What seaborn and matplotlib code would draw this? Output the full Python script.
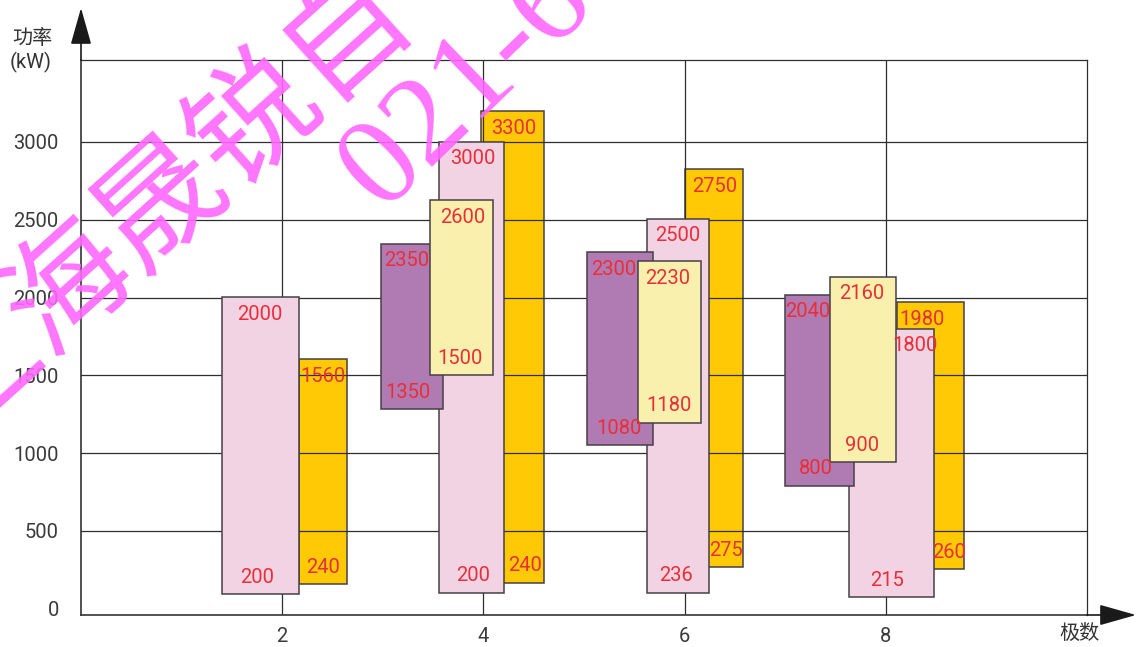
import numpy as np
import pandas as pd
import matplotlib
matplotlib.use("Agg")
import matplotlib.pyplot as plt
import seaborn as sns

# pole numbers on the x axis
poles = [2, 4, 6, 8]

# drawn extents of each floating bar (kW)
purple_lo = [np.nan, 1282, 1051, 791]
purple_hi = [np.nan, 2345, 2290, 2019]
pink_lo = [94, 103, 103, 75]
pink_hi = [2003, 3000, 2506, 1799]
yellow_lo = [np.nan, 1500, 1197, 942]
yellow_hi = [np.nan, 2626, 2233, 2135]
orange_lo = [159, 168, 267, 254]
orange_hi = [1604, 3199, 2825, 1970]

# numbers written on the bars
purple_lo_txt = [None, "1350", "1080", "800"]
purple_hi_txt = [None, "2350", "2300", "2040"]
pink_lo_txt = ["200", "200", "236", "215"]
pink_hi_txt = ["2000", "3000", "2500", "1800"]
yellow_lo_txt = [None, "1500", "1180", "900"]
yellow_hi_txt = [None, "2600", "2230", "2160"]
orange_lo_txt = ["240", "240", "275", "260"]
orange_hi_txt = ["1560", "3300", "2750", "1980"]

y_ticks = [0, 500, 1000, 1500, 2000, 2500, 3000]

# layout: left edge offset from the pole position and bar width (x units)
purple_left = [np.nan, -1.02, -0.97, -1.00]
purple_w = [np.nan, 0.62, 0.66, 0.68]
pink_left = [-0.60, -0.44, -0.37, -0.37]
pink_w = [0.77, 0.64, 0.61, 0.85]
yellow_left = [np.nan, -0.53, -0.46, -0.55]
yellow_w = [np.nan, 0.63, 0.62, 0.65]
orange_left = [0.17, -0.02, 0.00, 0.11]
orange_w = [0.47, 0.62, 0.58, 0.67]
# small horizontal nudges of the labels (pixels): (top, bottom)
purple_dx = [(0, 0), (-5, -4), (-6, -1), (-12, -4)]
pink_dx = [(-1, -3), (1, 2), (0, -2), (24, -4)]
yellow_dx = [(0, 0), (1, -2), (-2, -1), (-1, -1)]
orange_dx = [(0, 0), (1, 12), (1, 12), (-9, 18)]

rows = []
for name, lo, hi, lt, ht, left, w, dx, col, z in [
        ("orange", orange_lo, orange_hi, orange_lo_txt, orange_hi_txt, orange_left, orange_w, orange_dx, "#ffc905", 2),
        ("pink", pink_lo, pink_hi, pink_lo_txt, pink_hi_txt, pink_left, pink_w, pink_dx, "#f2d3e3", 4),
        ("purple", purple_lo, purple_hi, purple_lo_txt, purple_hi_txt, purple_left, purple_w, purple_dx, "#b07bb2", 5),
        ("yellow", yellow_lo, yellow_hi, yellow_lo_txt, yellow_hi_txt, yellow_left, yellow_w, yellow_dx, "#faf0ad", 6)]:
    for i, p in enumerate(poles):
        if np.isnan(lo[i]):
            continue
        rows.append(dict(series=name, pole=p, lo=lo[i], hi=hi[i], lo_txt=lt[i], hi_txt=ht[i],
                         left=p + left[i], w=w[i], dx_hi=dx[i][0], dx_lo=dx[i][1], color=col, z=z))
df = pd.DataFrame(rows)

sns.set_theme(style="white")
plt.rcParams['font.family'] = ['Roboto', 'Noto Sans CJK SC', 'DejaVu Sans']

fig = plt.figure(figsize=(11.36, 6.47), dpi=100)
ax = fig.add_axes([81/1136, 32/647, 1006/1136, 555/647])

grid_c = "#2e2e2e"
for y in y_ticks[1:]:
    ax.axhline(y, color=grid_c, lw=0.9, zorder=3)
for x in poles:
    ax.axvline(x, color=grid_c, lw=0.9, zorder=3)

red = "#ec2d37"
for _, r in df.iterrows():
    ax.bar(r["left"], r["hi"] - r["lo"], bottom=r["lo"], width=r["w"], align="edge",
           color=r["color"], edgecolor="#454045", linewidth=1.1, zorder=r["z"])
    xc = r["left"] + r["w"] / 2
    ax.annotate(r["hi_txt"], (xc, r["hi"]), xytext=(r["dx_hi"], -17), textcoords="offset pixels",
                ha="center", va="center", color=red, fontsize=14.5, zorder=10)
    ax.annotate(r["lo_txt"], (xc, r["lo"]), xytext=(r["dx_lo"], 17), textcoords="offset pixels",
                ha="center", va="center", color=red, fontsize=14.5, zorder=10)

ax.set_xlim(0, 10)
ax.set_ylim(-40, 3527)
ax.set_xticks(poles)
ax.set_yticks(y_ticks)
ax.tick_params(axis="both", length=0, labelsize=14.5, colors="#3a3a3a")
ax.tick_params(axis="y", pad=16)
ax.tick_params(axis="x", pad=9)
for s in ["top", "right"]:
    ax.spines[s].set_color(grid_c)
    ax.spines[s].set_linewidth(0.9)
for s in ["left", "bottom"]:
    ax.spines[s].set_color("#333333")
    ax.spines[s].set_linewidth(1.2)

# axis arrows
arrow = "-|>,head_length=2.3,head_width=0.65"
ax.annotate("", xy=(81, 639), xycoords="figure pixels", xytext=(81, 587), textcoords="figure pixels",
            arrowprops=dict(arrowstyle=arrow, mutation_scale=10, color="#1a1a1a", lw=1.2, shrinkA=0, shrinkB=0))
ax.annotate("", xy=(1136, 32), xycoords="figure pixels", xytext=(1087, 32), textcoords="figure pixels",
            arrowprops=dict(arrowstyle=arrow, mutation_scale=10, color="#1a1a1a", lw=1.2, shrinkA=0, shrinkB=0))

fig.text(12/1136, 1 - 38/647, "功率", ha="left", va="center", fontsize=14.5, color="#333333",
         family=["Noto Sans CJK SC"])
fig.text(10/1136, 1 - 62/647, "(kW)", ha="left", va="center", fontsize=14.5, color="#333333")
fig.text(1080/1136, 1 - 633/647, "极数", ha="center", va="center", fontsize=14.5, color="#333333",
         family=["Noto Sans CJK SC"])

# watermark
fig.text(162/1136, 1 - 203/647, "上海晟锐自", rotation=42, rotation_mode="anchor", ha="center", va="center",
         fontsize=90, color="#ff66ff", alpha=0.9, family=["Noto Sans CJK SC"], fontweight="light", zorder=20)
fig.text(467/1136, 1 - 86/647, "021-6", rotation=44, rotation_mode="anchor", ha="center", va="center",
         fontsize=92, color="#ff66ff", alpha=0.9, family=["Liberation Serif"], zorder=20)

fig.savefig("out.png", dpi=100)
